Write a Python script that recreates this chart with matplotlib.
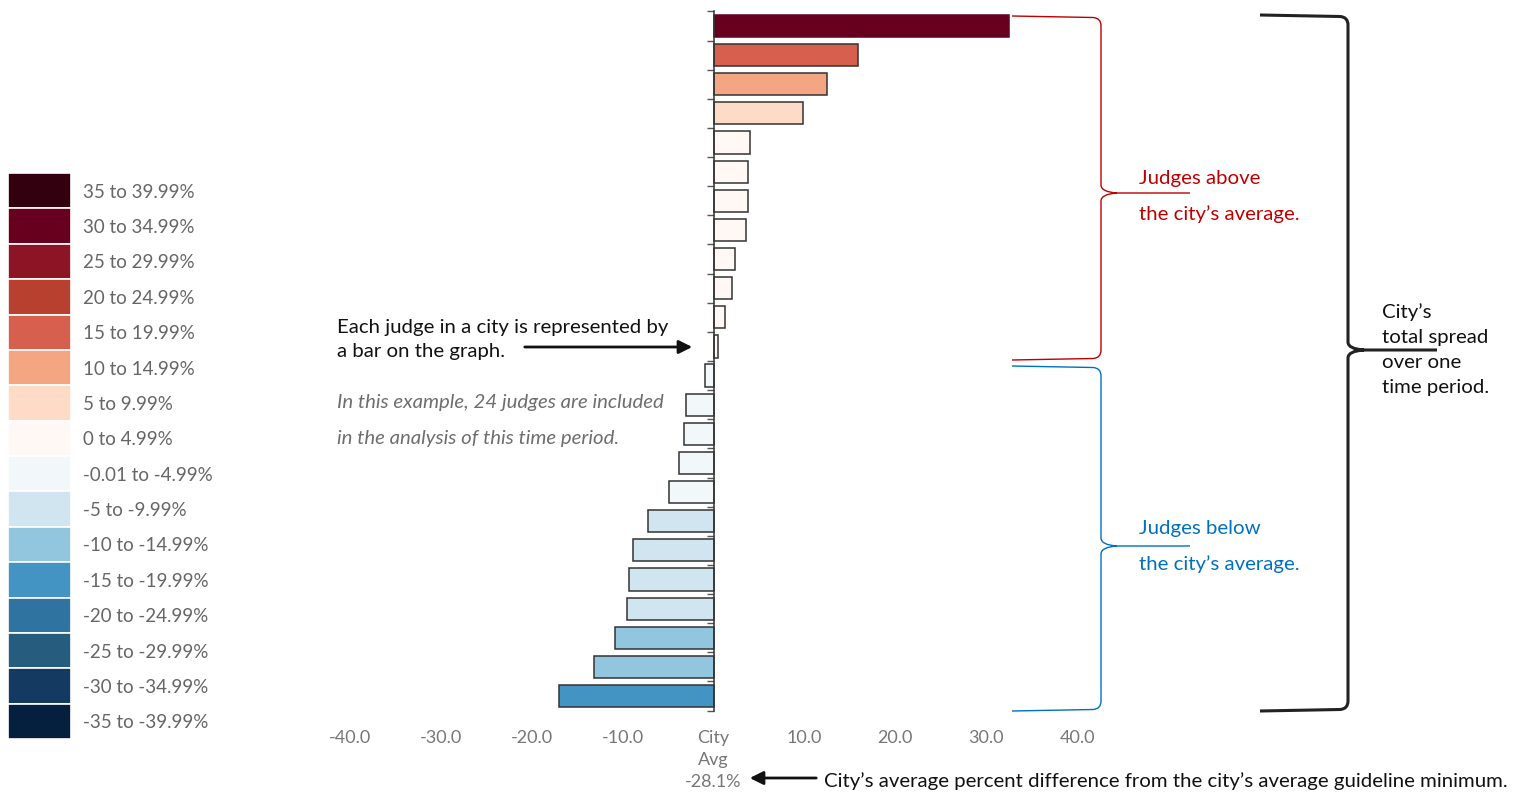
import numpy as np
import matplotlib
matplotlib.use("Agg")
import matplotlib.pyplot as plt
from matplotlib.path import Path
from matplotlib.patches import PathPatch, FancyArrowPatch

plt.rcParams['font.family'] = ['Lato', 'DejaVu Sans']

# ---------------- data ----------------
judge_values = [32.5, 15.9, 12.5, 9.9, 4.0, 3.85, 3.85, 3.6, 2.35, 2.0, 1.25, 0.55,
                -0.9, -3.0, -3.3, -3.75, -4.95, -7.25, -8.9, -9.3, -9.5, -10.85, -13.1, -17.0]
city_avg_label = "-28.1%"

bin_labels = ["35 to 39.99%", "30 to 34.99%", "25 to 29.99%", "20 to 24.99%",
              "15 to 19.99%", "10 to 14.99%", "5 to 9.99%", "0 to 4.99%",
              "-0.01 to -4.99%", "-5 to -9.99%", "-10 to -14.99%", "-15 to -19.99%",
              "-20 to -24.99%", "-25 to -29.99%", "-30 to -34.99%", "-35 to -39.99%"]
bin_lower = [35, 30, 25, 20, 15, 10, 5, 0, -5, -10, -15, -20, -25, -30, -35, -40]
bin_colors = ["#33000f", "#67001f", "#8c1424", "#b7402e", "#d6604d", "#f4a582",
              "#fddbc7", "#fff8f5", "#f2f7fa", "#d1e5f0", "#92c5de", "#4393c3",
              "#2f73a0", "#265c7d", "#143a62", "#05203f"]

xtick_vals = [-40, -30, -20, -10, 0, 10, 20, 30, 40]
xtick_labels = ["-40.0", "-30.0", "-20.0", "-10.0", "City\nAvg\n" + city_avg_label,
                "10.0", "20.0", "30.0", "40.0"]


def color_for(v):
    if v >= 0:
        for lo, c in zip(bin_lower[:8], bin_colors[:8]):
            if v >= lo:
                return c
        return bin_colors[7]
    for lo, c in zip(bin_lower[8:], bin_colors[8:]):
        if v > lo:
            return c
    return bin_colors[-1]


W, H = 1525, 793
fig = plt.figure(figsize=(W / 100, H / 100), dpi=100)

# ---------------- main bar axes ----------------
ax = fig.add_axes([350 / W, 1 - 710.6 / H, 727 / W, (710.6 - 11.4) / H])
ypos = np.arange(len(judge_values))
cols = [color_for(v) for v in judge_values]
edges = ["#67001f" if v >= 30 else "#333333" for v in judge_values]
ax.barh(ypos, judge_values, height=0.76, color=cols, edgecolor=edges, linewidth=1.1, zorder=2)
ax.set_xlim(-40, 40)
ax.set_ylim(len(judge_values) - 0.5, -0.5)
for s in ["top", "right", "bottom"]:
    ax.spines[s].set_visible(False)
ax.spines["left"].set_position(("data", 0))
ax.spines["left"].set_color("#333333")
ax.spines["left"].set_linewidth(1.1)
ax.spines["left"].set_zorder(3)
ax.set_yticks(np.arange(-0.5, len(judge_values), 1.0))
ax.set_yticklabels([])
ax.tick_params(axis="y", direction="out", length=5, width=1, color="#555555")
ax.set_xticks(xtick_vals)
ax.set_xticklabels(xtick_labels, fontsize=13, color="#777777", linespacing=1.45)
ax.tick_params(axis="x", length=0, pad=14)

# ---------------- legend axes ----------------
lax = fig.add_axes([8 / W, 1 - 739 / H, 63 / W, 566 / H])
lpos = np.arange(len(bin_labels))
lax.barh(lpos, [1] * len(bin_labels), height=1.0, color=bin_colors, edgecolor="white", linewidth=1.2)
lax.set_xlim(0, 1)
lax.set_ylim(len(bin_labels) - 0.5, -0.5)
lax.axis("off")
for i, lab in enumerate(bin_labels):
    lax.text(1.19, i, lab, va="center_baseline", ha="left", fontsize=13.5, color="#666666",
             clip_on=False)

# ---------------- overlay for annotations (pixel coords) ----------------
ov = fig.add_axes([0, 0, 1, 1], facecolor="none")
ov.set_xlim(0, W)
ov.set_ylim(H, 0)
ov.axis("off")


def brace(x0, x1, xtip, ytop, ybot, ytip, color, lw, r=8):
    verts = [(x0, ytop), (x1 - r, ytop + 1.5), (x1, ytop + 2), (x1, ytop + r + 2),
             (x1, ytip - r), (x1, ytip - 1), (x1 + 2 * r, ytip),
             (xtip, ytip),
             (x1 + 2 * r, ytip), (x1, ytip + 1), (x1, ytip + r),
             (x1, ybot - r - 2), (x1, ybot - 2), (x1 - r, ybot - 1.5), (x0, ybot)]
    codes = [Path.MOVETO, Path.LINETO, Path.CURVE3, Path.CURVE3,
             Path.LINETO, Path.CURVE3, Path.CURVE3,
             Path.LINETO,
             Path.MOVETO, Path.CURVE3, Path.CURVE3,
             Path.LINETO, Path.CURVE3, Path.CURVE3, Path.LINETO]
    ov.add_patch(PathPatch(Path(verts, codes), facecolor="none", edgecolor=color,
                           linewidth=lw, capstyle="butt", joinstyle="round"))


RED = "#c00000"
BLUE = "#0070c0"
FS = 14.7
VA = "center_baseline"
brace(1012, 1101, 1190, 16, 360, 193, RED, 1.0)
brace(1012, 1101, 1190, 366, 711, 546, BLUE, 1.0)
brace(1260, 1348, 1437, 15, 711, 350, "#222222", 2.2)

ov.text(1139, 177, "Judges above", color=RED, fontsize=FS, va=VA, ha="left")
ov.text(1139, 213, "the city\u2019s average.", color=RED, fontsize=FS, va=VA, ha="left")
ov.text(1139, 527, "Judges below", color=BLUE, fontsize=FS, va=VA, ha="left")
ov.text(1139, 563, "the city\u2019s average.", color=BLUE, fontsize=FS, va=VA, ha="left")

for yy, t in zip([311, 336, 361, 386], ["City\u2019s", "total spread", "over one", "time period."]):
    ov.text(1382, yy, t, color="#111111", fontsize=FS, va=VA, ha="left")

ov.text(337, 326, "Each judge in a city is represented by", color="#111111", fontsize=FS,
        va=VA, ha="left")
ov.text(337, 350, "a bar on the graph.", color="#111111", fontsize=FS, va=VA, ha="left")
ov.add_patch(FancyArrowPatch((522, 347), (695, 347), arrowstyle="-|>,head_length=8,head_width=4",
                             color="#111111", linewidth=2, mutation_scale=1))

ov.text(337, 401, "In this example, 24 judges are included", color="#6e6e6e", fontsize=FS,
        style="italic", va=VA, ha="left")
ov.text(337, 437, "in the analysis of this time period.", color="#6e6e6e", fontsize=FS,
        style="italic", va=VA, ha="left")

ov.text(824, 780, "City\u2019s average percent difference from the city\u2019s average guideline minimum.",
        color="#111111", fontsize=FS, va=VA, ha="left")
ov.add_patch(FancyArrowPatch((819, 778), (747, 778), arrowstyle="-|>,head_length=8,head_width=4",
                             color="#111111", linewidth=2, mutation_scale=1))

fig.savefig("out.png", dpi=100)
